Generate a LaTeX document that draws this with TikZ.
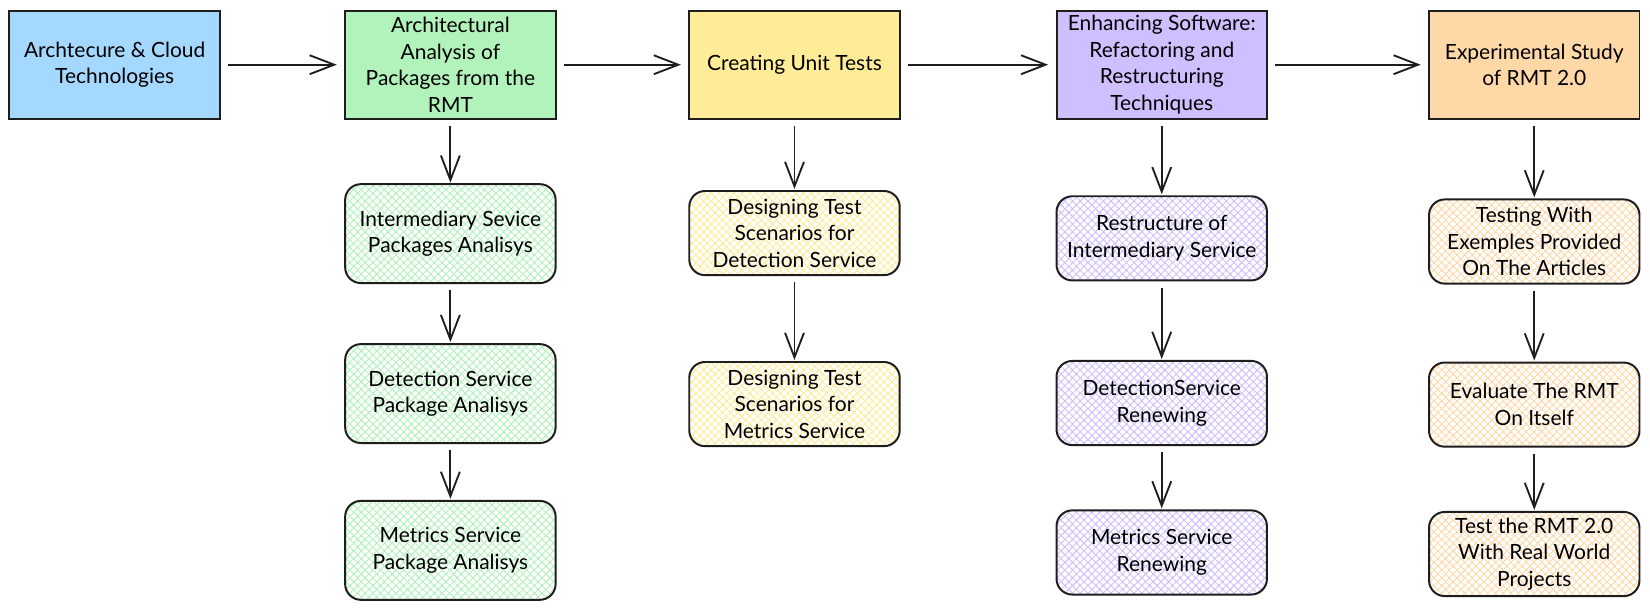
\documentclass[tikz,border=0pt]{standalone}
\usepackage{fontspec}
\setmainfont{Lato}
\usetikzlibrary{arrows.meta, patterns.meta}
\definecolor{inkline}{HTML}{1E1E1E}
\definecolor{skyfill}{HTML}{A5D8FF}
\definecolor{mintfill}{HTML}{B2F2BB}
\definecolor{sandfill}{HTML}{FFEC99}
\definecolor{lilacfill}{HTML}{D0BFFF}
\definecolor{peachfill}{HTML}{FFD8A8}
\tikzset{
  stage/.style={draw=inkline, line width=1.6pt, minimum width=60mm, minimum height=30.9mm,
    inner sep=0pt, align=center, font=\fontsize{17}{21.5}\selectfont},
  task/.style={stage, rounded corners=4.5mm, minimum height=24mm,
    pattern={Hatch[angle=45, distance=1.55mm, line width=0.75pt]}, pattern color=#1},
  arrow/.style={line width=1.5pt, draw=inkline,
    -{Straight Barb[length=7mm, width=5.4mm, line width=1.5pt]}},
  across/.style={arrow, shorten <=2.1mm, shorten >=2.1mm},
  down/.style={arrow, shorten <=1.8mm, shorten >=0.3mm}
}

\begin{document}
\begin{tikzpicture}[x=0.3mm, y=-0.3mm]
  \fill[white] (0,0) rectangle (1568,582);
  \useasboundingbox (0,0) rectangle (1568,582);

  % Top row of stages
  \node[stage, fill=skyfill] (b0) at (109,61.5) {Archtecure \& Cloud\\Technologies};
  \node[stage, fill=mintfill] (g0) at (428,61.5) {Architectural\\Analysis of\\Packages from the\\RMT};
  \node[stage, fill=sandfill] (y0) at (755,61.5) {Creating Unit Tests};
  \node[stage, fill=lilacfill] (p0) at (1104,61.5) {Enhancing Software:\\Refactoring and\\Restructuring\\Techniques};
  \node[stage, fill=peachfill] (o0) at (1458,61.5) {Experimental Study\\of RMT 2.0};

  \draw[across] (b0) -- (g0);
  \draw[across] (g0) -- (y0);
  \draw[across] (y0) -- (p0);
  \draw[across] (p0) -- (o0);

  % Package analysis column
  \node[task=mintfill, minimum height=28.2mm] (ga) at (428,222) {Intermediary Sevice\\Packages Analisys};
  \node[task=mintfill, minimum height=28.2mm] (gb) at (428,374) {Detection Service\\Package Analisys};
  \node[task=mintfill, minimum height=28.2mm] (gc) at (428,523) {Metrics Service\\Package Analisys};
  \draw[down] (g0.south) -- (ga.north);
  \draw[down] (ga.south) -- (gb.north);
  \draw[down] (gb.south) -- (gc.north);

  % Unit test column
  \node[task=sandfill] (ya) at (755,221.5) {Designing Test\\Scenarios for\\Detection Service};
  \node[task=sandfill] (yb) at (755,384) {Designing Test\\Scenarios for\\Metrics Service};
  \draw[down] (y0.south) -- (ya.north);
  \draw[down] (ya.south) -- (yb.north);

  % Refactoring column
  \node[task=lilacfill] (pa) at (1104,226.5) {Restructure of\\Intermediary Service};
  \node[task=lilacfill] (pb) at (1104,383) {DetectionService\\Renewing};
  \node[task=lilacfill] (pc) at (1104,525) {Metrics Service\\Renewing};
  \draw[down] (p0.south) -- (pa.north);
  \draw[down] (pa.south) -- (pb.north);
  \draw[down] (pb.south) -- (pc.north);

  % Experimental study column
  \node[task=peachfill] (oa) at (1458,229.5) {Testing With\\Exemples Provided\\On The Articles};
  \node[task=peachfill] (ob) at (1458,384.5) {Evaluate The RMT\\On Itself};
  \node[task=peachfill] (oc) at (1458,526.5) {Test the RMT 2.0\\With Real World\\Projects};
  \draw[down] (o0.south) -- (oa.north);
  \draw[down] (oa.south) -- (ob.north);
  \draw[down] (ob.south) -- (oc.north);
\end{tikzpicture}
\end{document}
